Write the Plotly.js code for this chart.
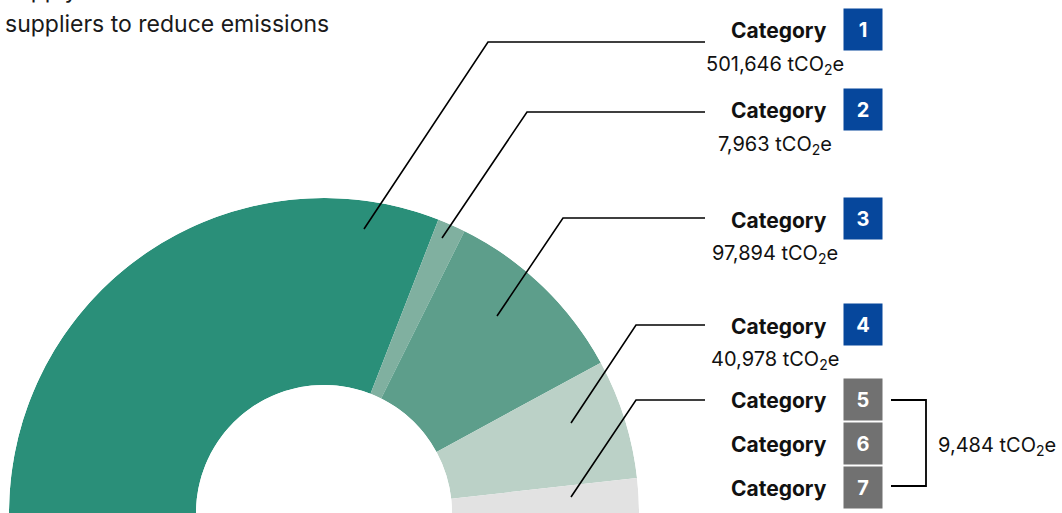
<!DOCTYPE html>
<html>
<head>
<meta charset="utf-8">
<script src="https://cdn.plot.ly/plotly-3.0.1.min.js"></script>
<style>
  html, body { margin: 0; padding: 0; background: #ffffff; overflow: hidden; }
  #chart { width: 1062px; height: 513px; }
</style>
</head>
<body>
<div id="chart"></div>
<script>
// ---------------- DATA ----------------
const categoryNumbers = ['1', '2', '3', '4', '5', '6', '7'];
const categoryLabel = 'Category';
// emissions shown in the labels (tCO2e); categories 5-7 are reported together
const emissions = [501646, 7963, 97894, 40978];
const groupedEmissions = 9484;           // categories 5, 6, 7 combined
// angular share of each ring segment (degrees of the half ring)
const sliceNames = ['Category 1', 'Category 2', 'Category 3', 'Category 4', 'Categories 5–7'];
const sliceDegrees = [111.3, 5.2, 35.0, 22.1, 6.4];
const titleLines = ['supply chain and work with our', 'suppliers to reduce emissions'];

// ---------------- STYLE / LAYOUT CONSTANTS ----------------
const W = 1062, H = 513;
const sliceColors = ['#2a8f79', '#80b0a0', '#5d9e8b', '#bbd1c7', '#e2e2e2'];
const boxColors = ['#06479c', '#06479c', '#06479c', '#06479c', '#717171', '#717171', '#717171'];
const FONT = 'Inter, "Noto Sans", "DejaVu Sans", sans-serif';
const boxCentersY = [29.5, 109.5, 218.5, 324.5, 399, 443, 487];
const valueCentersY = [64, 144, 253, 359];
const titleCentersY = [-10, 24];
const leaderLines = [
  [[364, 229], [488, 42], [705, 42]],
  [[442, 238], [527, 112], [705, 112]],
  [[497, 316], [563, 218], [705, 218]],
  [[571, 423], [636, 325], [705, 325]],
  [[571, 497], [636, 400], [705, 400]]
];
const bracket = [[891, 400], [926, 400], [926, 486], [891, 486]];

const px = x => x / W;
const py = y => 1 - y / H;

// ---------------- RING (barpolar on a half-circle sector) ----------------
const thetaCenters = [];
let acc = 0;
sliceDegrees.forEach(d => { thetaCenters.push(acc + d / 2); acc += d; });

const ring = {
  type: 'barpolar',
  theta: thetaCenters,
  width: sliceDegrees,
  r: sliceDegrees.map(() => 1),
  base: sliceDegrees.map(() => 0),
  text: sliceNames,
  hoverinfo: 'text',
  marker: { color: sliceColors, line: { width: 0 } },
  showlegend: false
};

// ---------------- ANNOTATIONS ----------------
const annotations = [];
const fmt = v => v.toLocaleString('en-US') + ' tCO<sub>2</sub>e';

titleLines.forEach((t, i) => {
  annotations.push({
    xref: 'paper', yref: 'paper', x: px(3), y: py(titleCentersY[i]),
    xanchor: 'left', yanchor: 'middle', showarrow: false, text: t,
    font: { family: FONT, size: 23, color: '#1a1a1a' }
  });
});

categoryNumbers.forEach((n, i) => {
  annotations.push({
    xref: 'paper', yref: 'paper', x: px(829), y: py(boxCentersY[i] + 1.5),
    xanchor: 'right', yanchor: 'middle', showarrow: false,
    text: '<b>' + categoryLabel + '</b>',
    font: { family: FONT, size: 21, color: '#111111' }
  });
  annotations.push({
    xref: 'paper', yref: 'paper', x: px(843), y: py(boxCentersY[i]),
    xanchor: 'left', yanchor: 'middle', showarrow: false,
    text: '<b>' + n + '</b>', width: 38, height: 41, borderpad: 0,
    bgcolor: boxColors[i], align: 'center', valign: 'middle',
    font: { family: FONT, size: 20, color: '#ffffff' }
  });
});

emissions.forEach((v, i) => {
  annotations.push({
    xref: 'paper', yref: 'paper', x: px(775), y: py(valueCentersY[i] + 1),
    xanchor: 'center', yanchor: 'middle', showarrow: false, text: fmt(v),
    font: { family: FONT, size: 20, color: '#111111' }
  });
});
annotations.push({
  xref: 'paper', yref: 'paper', x: px(936), y: py(446),
  xanchor: 'left', yanchor: 'middle', showarrow: false, text: fmt(groupedEmissions),
  font: { family: FONT, size: 20, color: '#111111' }
});

// ---------------- SHAPES (leader lines, bracket) ----------------
const toPath = pts => pts.map((p, i) => (i ? 'L' : 'M') + px(p[0]) + ',' + py(p[1])).join(' ');
const shapes = leaderLines.map(pts => ({
  type: 'path', xref: 'paper', yref: 'paper', path: toPath(pts),
  line: { color: '#000000', width: 1.6 }
}));
shapes.push({
  type: 'path', xref: 'paper', yref: 'paper', path: toPath(bracket),
  line: { color: '#000000', width: 1.8 }
});

const layout = {
  width: W, height: H,
  margin: { l: 0, r: 0, t: 0, b: 0 },
  paper_bgcolor: '#ffffff',
  showlegend: false,
  polar: {
    domain: { x: [px(324 - 315), px(324 + 315)], y: [0, 315 / H] },
    sector: [0, 180],
    hole: 128 / 315,
    bgcolor: 'rgba(0,0,0,0)',
    angularaxis: { visible: false, rotation: 180, direction: 'clockwise', showgrid: false, showline: false, ticks: '' },
    radialaxis: { visible: false, range: [0, 1], showgrid: false, showline: false, ticks: '' }
  },
  annotations: annotations,
  shapes: shapes
};

Plotly.newPlot('chart', [ring], layout, { displayModeBar: false, staticPlot: true });
</script>
</body>
</html>
